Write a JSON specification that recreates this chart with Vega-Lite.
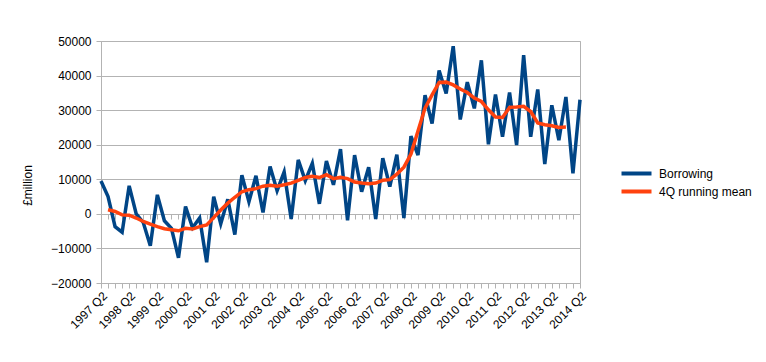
{
  "$schema": "https://vega.github.io/schema/vega-lite/v6.json",
  "width": 479,
  "height": 242,
  "autosize": {"type": "none"},
  "padding": {"left": 101, "top": 41, "right": 186, "bottom": 79},
  "background": "white",
  "config": {
    "font": "Liberation Sans",
    "view": {"stroke": "#b3b3b3", "strokeWidth": 1},
    "axis": {
      "labelFont": "Liberation Sans",
      "labelFontSize": 12,
      "labelColor": "#000000",
      "titleFont": "Liberation Sans",
      "titleFontSize": 12,
      "titleFontWeight": "normal",
      "titleColor": "#000000",
      "domainColor": "#b3b3b3",
      "tickColor": "#b3b3b3",
      "gridColor": "#b3b3b3",
      "gridOpacity": 1
    }
  },
  "data": {
    "values": [
      {"q": "1997 Q2", "Borrowing": 9500, "4Q running mean": null},
      {"q": "1997 Q3", "Borrowing": 5000, "4Q running mean": 1200},
      {"q": "1997 Q4", "Borrowing": -3700, "4Q running mean": 700},
      {"q": "1998 Q1", "Borrowing": -5300, "4Q running mean": -300},
      {"q": "1998 Q2", "Borrowing": 8100, "4Q running mean": -400},
      {"q": "1998 Q3", "Borrowing": 0, "4Q running mean": -1200},
      {"q": "1998 Q4", "Borrowing": -2500, "4Q running mean": -2200},
      {"q": "1999 Q1", "Borrowing": -9200, "4Q running mean": -3000},
      {"q": "1999 Q2", "Borrowing": 5500, "4Q running mean": -3700},
      {"q": "1999 Q3", "Borrowing": -2000, "4Q running mean": -4300},
      {"q": "1999 Q4", "Borrowing": -4200, "4Q running mean": -4600},
      {"q": "2000 Q1", "Borrowing": -12700, "4Q running mean": -4900},
      {"q": "2000 Q2", "Borrowing": 2100, "4Q running mean": -4200},
      {"q": "2000 Q3", "Borrowing": -4000, "4Q running mean": -4400},
      {"q": "2000 Q4", "Borrowing": -1200, "4Q running mean": -3700},
      {"q": "2001 Q1", "Borrowing": -14000, "4Q running mean": -3200},
      {"q": "2001 Q2", "Borrowing": 5000, "4Q running mean": -1100},
      {"q": "2001 Q3", "Borrowing": -2900, "4Q running mean": 1100},
      {"q": "2001 Q4", "Borrowing": 4200, "4Q running mean": 3100},
      {"q": "2002 Q1", "Borrowing": -6000, "4Q running mean": 4800},
      {"q": "2002 Q2", "Borrowing": 11200, "4Q running mean": 6400},
      {"q": "2002 Q3", "Borrowing": 3500, "4Q running mean": 7000},
      {"q": "2002 Q4", "Borrowing": 11000, "4Q running mean": 7300},
      {"q": "2003 Q1", "Borrowing": 400, "4Q running mean": 8000},
      {"q": "2003 Q2", "Borrowing": 13700, "4Q running mean": 8300},
      {"q": "2003 Q3", "Borrowing": 6700, "4Q running mean": 8000},
      {"q": "2003 Q4", "Borrowing": 12100, "4Q running mean": 8400},
      {"q": "2004 Q1", "Borrowing": -1500, "4Q running mean": 8900},
      {"q": "2004 Q2", "Borrowing": 15600, "4Q running mean": 9700},
      {"q": "2004 Q3", "Borrowing": 9600, "4Q running mean": 10500},
      {"q": "2004 Q4", "Borrowing": 14600, "4Q running mean": 10900},
      {"q": "2005 Q1", "Borrowing": 2900, "4Q running mean": 10500},
      {"q": "2005 Q2", "Borrowing": 15300, "4Q running mean": 11300},
      {"q": "2005 Q3", "Borrowing": 8400, "4Q running mean": 10200},
      {"q": "2005 Q4", "Borrowing": 18700, "4Q running mean": 10600},
      {"q": "2006 Q1", "Borrowing": -1900, "4Q running mean": 10200},
      {"q": "2006 Q2", "Borrowing": 17000, "4Q running mean": 9200},
      {"q": "2006 Q3", "Borrowing": 6400, "4Q running mean": 8900},
      {"q": "2006 Q4", "Borrowing": 13500, "4Q running mean": 8700},
      {"q": "2007 Q1", "Borrowing": -1500, "4Q running mean": 8900},
      {"q": "2007 Q2", "Borrowing": 16100, "4Q running mean": 9700},
      {"q": "2007 Q3", "Borrowing": 7900, "4Q running mean": 9900},
      {"q": "2007 Q4", "Borrowing": 17100, "4Q running mean": 11500},
      {"q": "2008 Q1", "Borrowing": -1200, "4Q running mean": 13500},
      {"q": "2008 Q2", "Borrowing": 22500, "4Q running mean": 17300},
      {"q": "2008 Q3", "Borrowing": 17000, "4Q running mean": 24000},
      {"q": "2008 Q4", "Borrowing": 34300, "4Q running mean": 30600},
      {"q": "2009 Q1", "Borrowing": 26100, "4Q running mean": 34400},
      {"q": "2009 Q2", "Borrowing": 41500, "4Q running mean": 38000},
      {"q": "2009 Q3", "Borrowing": 34800, "4Q running mean": 38100},
      {"q": "2009 Q4", "Borrowing": 48500, "4Q running mean": 37300},
      {"q": "2010 Q1", "Borrowing": 27300, "4Q running mean": 36100},
      {"q": "2010 Q2", "Borrowing": 38100, "4Q running mean": 35100},
      {"q": "2010 Q3", "Borrowing": 30500, "4Q running mean": 33500},
      {"q": "2010 Q4", "Borrowing": 44400, "4Q running mean": 32500},
      {"q": "2011 Q1", "Borrowing": 20100, "4Q running mean": 30100},
      {"q": "2011 Q2", "Borrowing": 34500, "4Q running mean": 28000},
      {"q": "2011 Q3", "Borrowing": 22300, "4Q running mean": 27900},
      {"q": "2011 Q4", "Borrowing": 35100, "4Q running mean": 30800},
      {"q": "2012 Q1", "Borrowing": 19900, "4Q running mean": 30900},
      {"q": "2012 Q2", "Borrowing": 45900, "4Q running mean": 31100},
      {"q": "2012 Q3", "Borrowing": 22300, "4Q running mean": 29600},
      {"q": "2012 Q4", "Borrowing": 36000, "4Q running mean": 26300},
      {"q": "2013 Q1", "Borrowing": 14400, "4Q running mean": 25800},
      {"q": "2013 Q2", "Borrowing": 31400, "4Q running mean": 25500},
      {"q": "2013 Q3", "Borrowing": 21300, "4Q running mean": 25000},
      {"q": "2013 Q4", "Borrowing": 33800, "4Q running mean": 25100},
      {"q": "2014 Q1", "Borrowing": 11700, "4Q running mean": null},
      {"q": "2014 Q2", "Borrowing": 33000, "4Q running mean": null}
    ]
  },
  "transform": [
    {"fold": ["Borrowing", "4Q running mean"], "as": ["series", "value"]},
    {"filter": "isValid(datum.value)"}
  ],
  "encoding": {
    "y": {
      "field": "value",
      "type": "quantitative",
      "scale": {"domain": [-20000, 50000], "nice": false, "zero": false},
      "axis": {
        "values": [-20000, -10000, 0, 10000, 20000, 30000, 40000, 50000],
        "format": "d",
        "tickSize": 5,
        "labelPadding": 5,
        "title": "£million",
        "titleAngle": -90,
        "titleX": -74,
        "titleY": 144,
        "titleAlign": "center",
        "titleBaseline": "middle"
      }
    },
    "color": {
      "field": "series",
      "type": "nominal",
      "scale": {"domain": ["Borrowing", "4Q running mean"], "range": ["#004586", "#ff420e"]},
      "legend": {
        "title": null,
        "orient": "none",
        "legendX": 526,
        "legendY": 123,
        "symbolType": "M-2,0H2",
        "symbolSize": 225,
        "symbolStrokeWidth": 4,
        "labelFont": "Liberation Sans",
        "labelFontSize": 12,
        "labelColor": "#000000",
        "labelOffset": 13,
        "rowPadding": 0
      }
    }
  },
  "layer": [
    {
      "transform": [{"filter": "datum.series == 'Borrowing'"}],
      "mark": {"type": "line", "strokeWidth": 3.5},
      "encoding": {
        "x": {
          "field": "q",
          "type": "ordinal",
          "scale": {"type": "point", "padding": 0},
          "axis": {
            "title": null,
            "orient": "bottom",
            "labelAngle": -45,
            "labelAlign": "right",
            "labelBaseline": "top",
            "labelPadding": 2,
            "tickSize": 5,
            "labelExpr": "indexof(datum.label, 'Q2') >= 0 ? datum.label : ''",
            "grid": false
          }
        }
      }
    },
    {
      "transform": [{"filter": "datum.series != 'Borrowing'"}],
      "mark": {"type": "line", "strokeWidth": 3.5},
      "encoding": {
        "x": {
          "field": "q",
          "type": "ordinal",
          "axis": {
            "title": null,
            "orient": "bottom",
            "offset": -69,
            "labels": false,
            "domain": false,
            "grid": false,
            "tickSize": 5
          }
        }
      }
    }
  ],
  "resolve": {"axis": {"x": "independent"}}
}
